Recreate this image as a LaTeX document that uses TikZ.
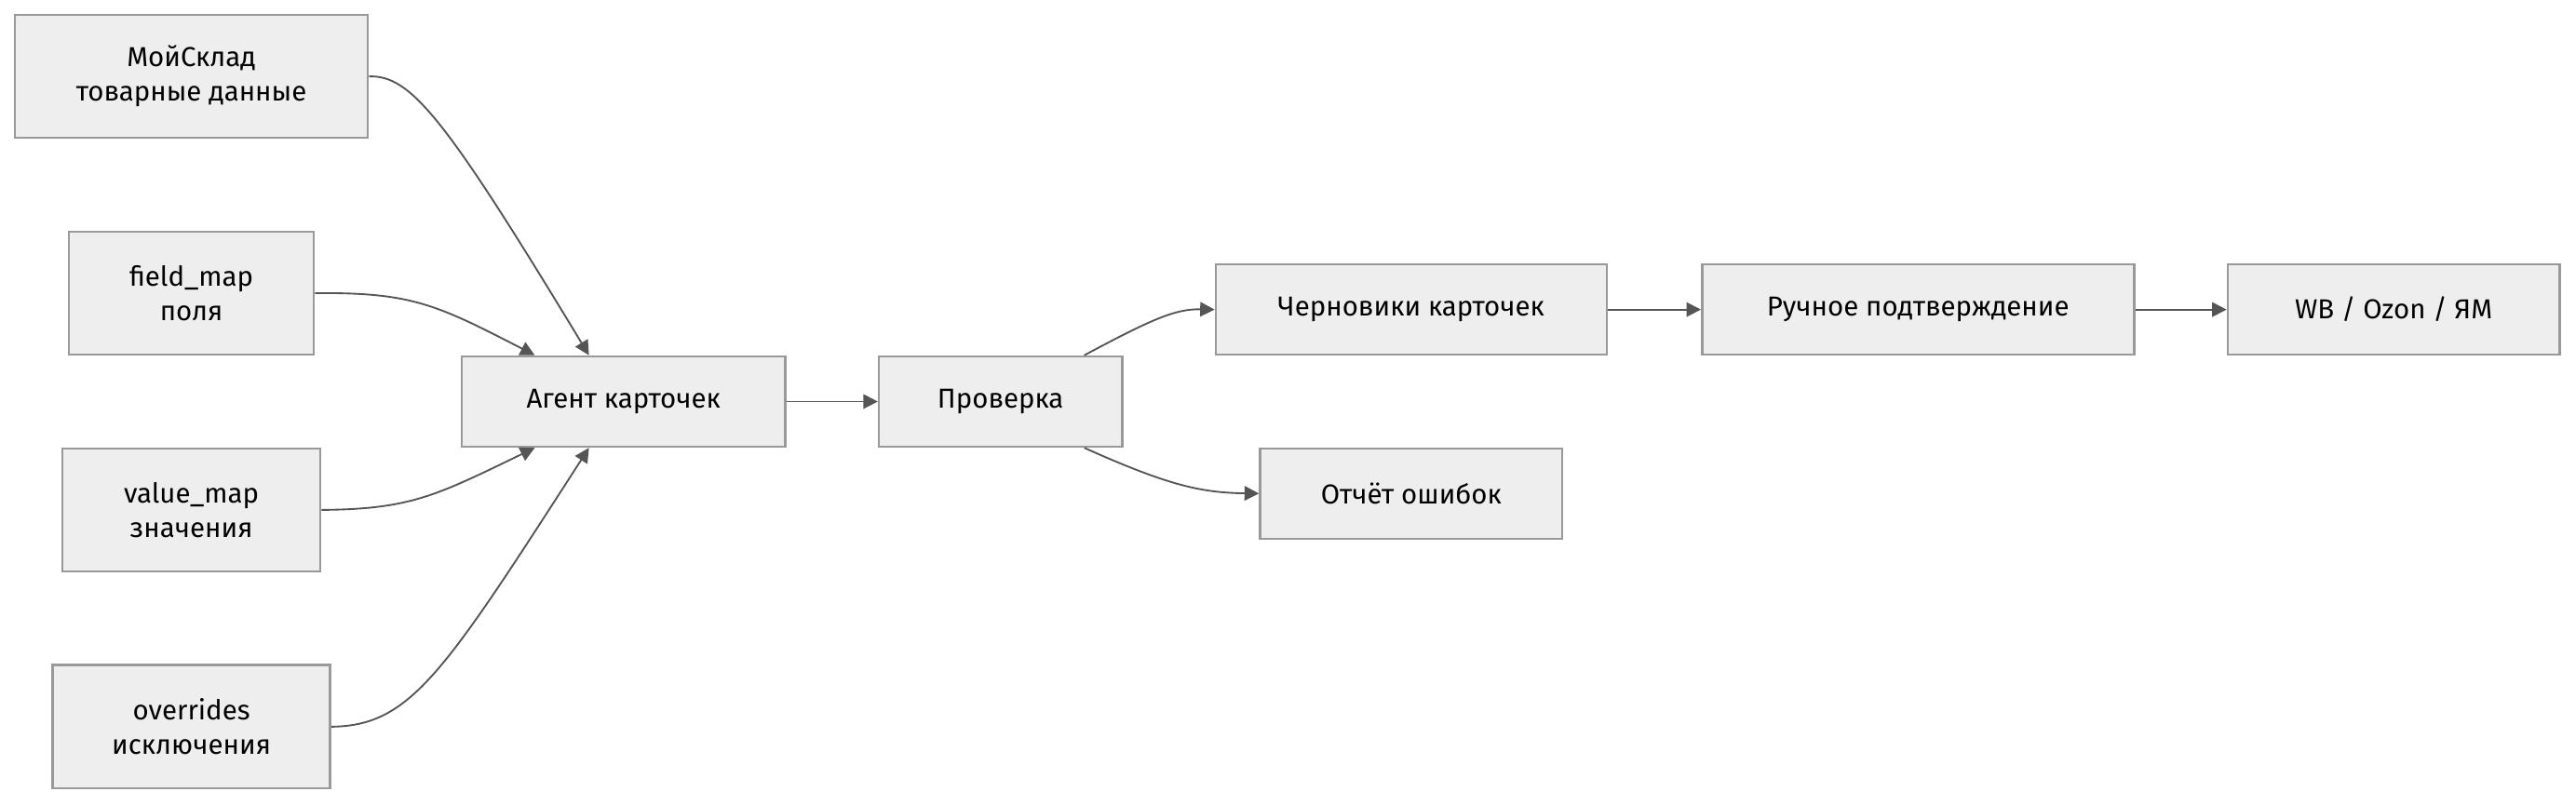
\documentclass[tikz,border=0pt]{standalone}
\usepackage{fontspec}
\setmainfont{Fira Sans}
\usetikzlibrary{positioning, arrows.meta}
\definecolor{boxfill}{RGB}{238,238,238}
\definecolor{boxline}{RGB}{153,153,153}
\definecolor{edgegray}{RGB}{85,85,85}

\begin{document}
\begin{tikzpicture}[
    x=0.02cm, y=-0.02cm,
    box/.style={rectangle, draw=boxline, fill=boxfill, thick, minimum height=1.1cm, align=center, font=\fontsize{9.5}{12}\selectfont, inner sep=0pt},
    tallbox/.style={box, minimum height=1.5cm},
    link/.style={-{Triangle[length=5pt,width=5pt]}, edgegray, semithick}
]
    \useasboundingbox (0,0) rectangle (1568,490);

    % Sources
    \node[tallbox, minimum width=4.3cm] (src) at (116.5,46.5) {МойСклад\\товарные данные};
    \node[tallbox, minimum width=2.98cm] (fmap) at (116.5,178.5) {field\_map\\поля};
    \node[tallbox, minimum width=3.14cm] (vmap) at (116.5,310.5) {value\_map\\значения};
    \node[tallbox, minimum width=3.38cm] (ovr) at (116.5,442.5) {overrides\\исключения};

    % Pipeline
    \node[box, minimum width=3.94cm] (agent) at (379.5,244.5) {Агент карточек};
    \node[box, minimum width=2.96cm] (check) at (609,244.5) {Проверка};
    \node[box, minimum width=4.76cm] (drafts) at (859,188.5) {Черновики карточек};
    \node[box, minimum width=5.26cm] (confirm) at (1167.5,188.5) {Ручное подтверждение};
    \node[box, minimum width=4.04cm] (mp) at (1457,188.5) {WB / Ozon / ЯМ};
    \node[box, minimum width=3.68cm] (errors) at (859,300.5) {Отчёт ошибок};

    \coordinate (agentNW) at ([xshift=-0.42cm]agent.north);
    \coordinate (agentNW2) at ([xshift=-1.08cm]agent.north);
    \coordinate (agentSW) at ([xshift=-0.42cm]agent.south);
    \coordinate (agentSW2) at ([xshift=-1.08cm]agent.south);
    \coordinate (checkNE) at ([xshift=1.02cm]check.north);
    \coordinate (checkSE) at ([xshift=1.02cm]check.south);

    % Connections
    \draw[link] (src.east) .. controls (250,46) and (270,70) .. (agentNW);
    \draw[link] (fmap.east) .. controls (250,178) and (265,185) .. (agentNW2);
    \draw[link] (vmap.east) .. controls (250,310) and (265,302) .. (agentSW2);
    \draw[link] (ovr.east) .. controls (250,442) and (270,410) .. (agentSW);
    \draw[link] (agent) -- (check);
    \draw[link] (checkNE) .. controls (700,195) and (715,188) .. (drafts.west);
    \draw[link] (checkSE) .. controls (710,295) and (730,300) .. (errors.west);
    \draw[link] (drafts) -- (confirm);
    \draw[link] (confirm) -- (mp);
\end{tikzpicture}
\end{document}
